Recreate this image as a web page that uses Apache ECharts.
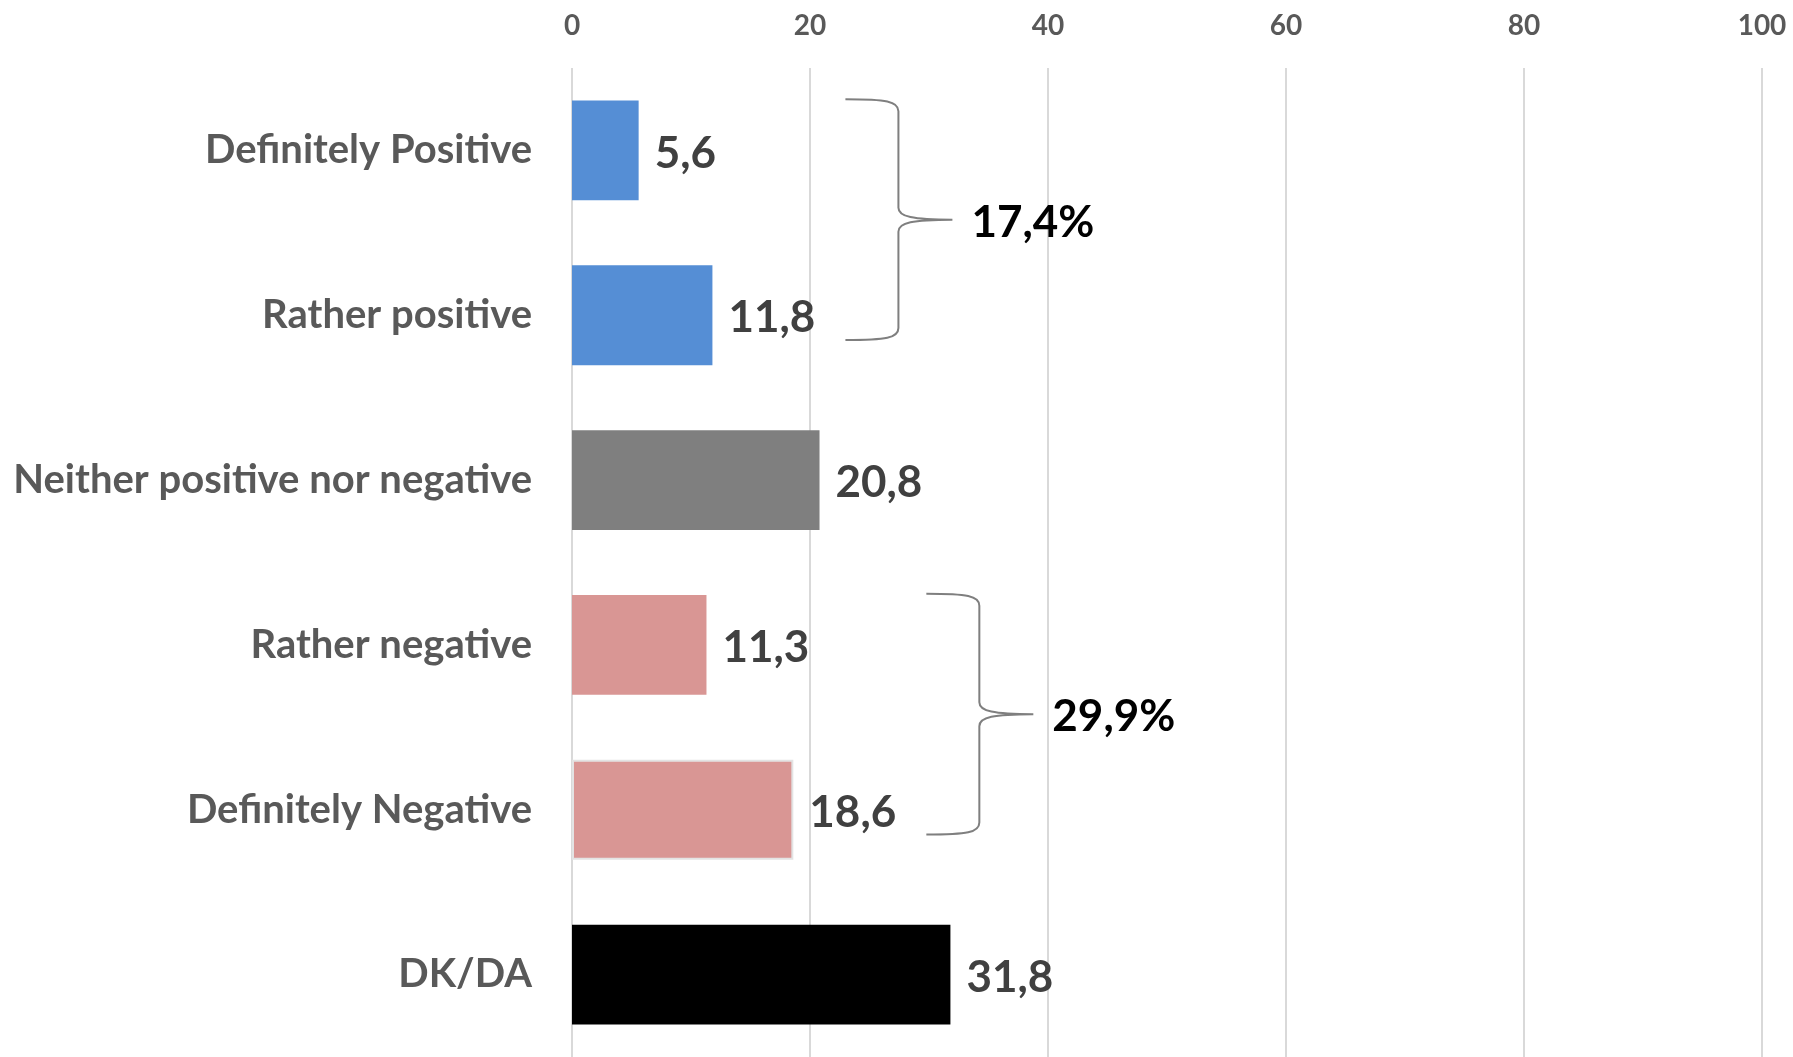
<!DOCTYPE html>
<html>
<head>
<meta charset="utf-8">
<script src="https://cdn.jsdelivr.net/npm/echarts@6/dist/echarts.min.js"></script>
<style>
html,body{margin:0;padding:0;background:#fff;}
#chart{width:1793px;height:1057px;}
</style>
</head>
<body>
<div id="chart"></div>
<script>
const categories = ['Definitely Positive', 'Rather positive', 'Neither positive nor negative', 'Rather negative', 'Definitely Negative', 'DK/DA'];
const values = [5.6, 11.8, 20.8, 11.3, 18.6, 31.8];
const barColors = ['#558ed5', '#558ed5', '#7f7f7f', '#d99694', '#d99694', '#000000'];
const xTicks = [0, 20, 40, 60, 80, 100];
// grouped totals: [first category index, last category index, label]
const groupFrom = [0, 3];
const groupTo = [1, 4];
const groupLabels = ['17,4%', '29,9%'];

const FONT = 'Lato';
const chart = echarts.init(document.getElementById('chart'), null, {renderer: 'canvas'});

const barData = values.map((v, i) => {
  const item = {value: v, itemStyle: {color: barColors[i]}};
  if (i === 4) { item.itemStyle.borderColor = '#e3e3e3'; item.itemStyle.borderWidth = 2; }
  return item;
});

const groupData = groupFrom.map((f, i) => {
  let m = 0;
  for (let k = f; k <= groupTo[i]; k++) m = Math.max(m, values[k]);
  return {value: [m, f, groupTo[i]], label: groupLabels[i]};
});

const option = {
  animation: false,
  backgroundColor: '#ffffff',
  grid: {left: 572, right: 31, top: 68, height: 990, containLabel: false},
  xAxis: {
    type: 'value', position: 'top', min: xTicks[0], max: xTicks[xTicks.length - 1], interval: 20,
    axisLine: {show: false}, axisTick: {show: false},
    splitLine: {show: true, lineStyle: {color: '#d9d9d9', width: 2}},
    axisLabel: {color: '#595959', fontFamily: FONT, fontWeight: 'bold', fontSize: 28, margin: 28}
  },
  yAxis: {
    type: 'category', data: categories, inverse: true,
    axisLine: {show: false}, axisTick: {show: false}, splitLine: {show: false},
    axisLabel: {color: '#595959', fontFamily: FONT, fontWeight: 'bold', fontSize: 40, margin: 40}
  },
  series: [
    {
      type: 'bar', data: barData, barCategoryGap: '39.4%',
      label: {
        show: true, position: 'right', distance: 16, offset: [0, 3],
        color: '#404040', fontFamily: FONT, fontWeight: 'bold', fontSize: 44,
        formatter: p => String(p.value).replace('.', ',')
      }
    },
    {
      type: 'custom', data: groupData, clip: false, z: 5,
      encode: {x: 0, y: 1},
      renderItem: function (params, api) {
        const maxV = api.value(0), from = api.value(1), to = api.value(2);
        const band = api.size([0, 1])[1];
        const pTop = api.coord([maxV, from]);
        const pBot = api.coord([maxV, to]);
        const xEnd = pTop[0] + 133;
        const xLine = pTop[0] + 186;
        const xTip = pTop[0] + 240;
        const yTop = pTop[1] - 0.31 * band;
        const yBot = pBot[1] + 0.15 * band;
        const yMid = (yTop + yBot) / 2;
        const r = 12;
        const d = [
          'M', xEnd, yTop,
          'C', xLine - 12, yTop, xLine, yTop + 2, xLine, yTop + r,
          'L', xLine, yMid - r,
          'C', xLine, yMid - 3, xLine + 14, yMid, xTip, yMid,
          'C', xLine + 14, yMid, xLine, yMid + 3, xLine, yMid + r,
          'L', xLine, yBot - r,
          'C', xLine, yBot - 2, xLine - 12, yBot, xEnd, yBot
        ].join(' ');
        return {
          type: 'group',
          children: [
            {type: 'path', shape: {pathData: d}, style: {fill: null, stroke: '#7f7f7f', lineWidth: 2}},
            {type: 'text', style: {
              text: groupLabels[params.dataIndex], x: xTip + 19, y: yMid + 3,
              verticalAlign: 'middle', align: 'left',
              fill: '#000000', font: 'bold 44px ' + FONT
            }}
          ]
        };
      }
    }
  ]
};
chart.setOption(option);
</script>
</body>
</html>
